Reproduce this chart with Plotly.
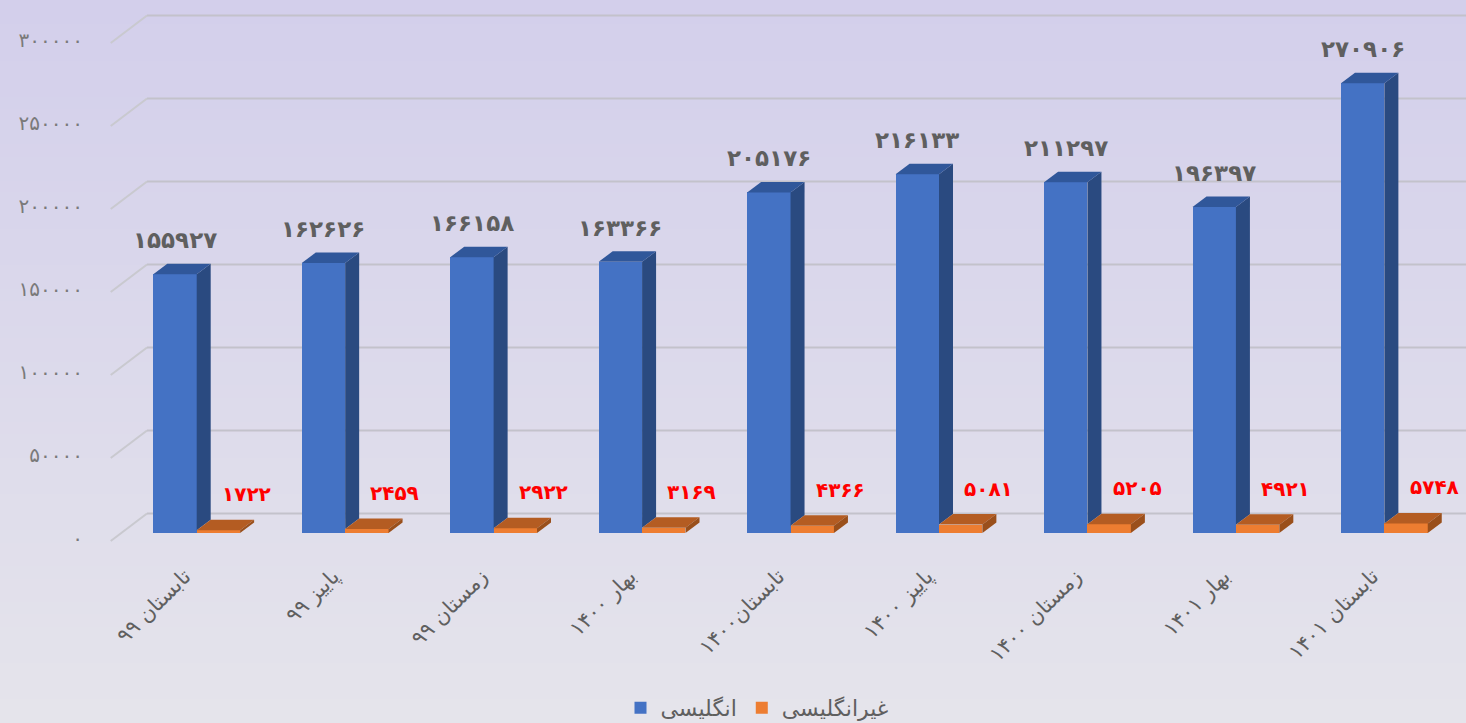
import plotly.graph_objects as go

# ---------------- data ----------------
categories = ["تابستان ۹۹", "پاییز ۹۹", "زمستان ۹۹", "بهار ۱۴۰۰", "تابستان۱۴۰۰",
              "پاییز ۱۴۰۰", "زمستان ۱۴۰۰", "بهار ۱۴۰۱", "تابستان ۱۴۰۱"]
english = [155927, 162626, 166158, 163366, 205176, 216133, 211297, 196397, 270906]
non_english = [1722, 2459, 2922, 3169, 4366, 5081, 5205, 4921, 5748]
series_names = ["انگلیسی", "غیرانگلیسی"]
y_ticks = [0, 50000, 100000, 150000, 200000, 250000, 300000]

FA = str.maketrans("0123456789", "۰۱۲۳۴۵۶۷۸۹")
def fa(n):
    return str(n).translate(FA)

# ---------------- geometry / style ----------------
W, H = 1466, 723
ML, MB = 110, 178
PLOT_H = H - MB            # 545
PLOT_W = W - ML            # 1356
PX_PER_CAT = 148.46
PX_PER_VAL = 498 / 300000
ZERO_PX = 533              # pixel row of value 0 in plot (from top)
X0_PX = 196.7              # pixel column of category 0 centre

x_range = [(ML - X0_PX) / PX_PER_CAT, (W - X0_PX) / PX_PER_CAT]
y_range = [-(PLOT_H - ZERO_PX) / PX_PER_VAL, ZERO_PX / PX_PER_VAL]

BAR_W = 43.4 / PX_PER_CAT
DX = 14 / PX_PER_CAT
DY = 10.5 / PX_PER_VAL
BACK_X = (147 - X0_PX) / PX_PER_CAT
BACK_DY = 19.5 / PX_PER_VAL
FRONT_DY = -8 / PX_PER_VAL

BLUE, BLUE_TOP, BLUE_SIDE = "#4472c4", "#30579a", "#2a4a80"
ORNG, ORNG_TOP, ORNG_SIDE = "#ed7d31", "#b45c22", "#9a4f1b"
GRID = "#c3c2cb"
TXT = "#5f5f5f"
FONT = "DejaVu Sans"

def path(pts):
    return "M " + " L ".join(f"{x},{y}" for x, y in pts) + " Z"

shapes = []
# background gradient
c_top = (211, 207, 235)
c_bot = (229, 228, 235)
N = 60
for k in range(N):
    t = k / (N - 1)
    col = tuple(round(a + (b - a) * t) for a, b in zip(c_top, c_bot))
    p0 = k * H / N
    p1 = (k + 1) * H / N + 1
    shapes.append(dict(type="rect", xref="paper", yref="paper", layer="below",
                       x0=-ML / PLOT_W - 0.01, x1=1.01,
                       y0=(PLOT_H - p1) / PLOT_H, y1=(PLOT_H - p0) / PLOT_H,
                       fillcolor="rgb(%d,%d,%d)" % col, line=dict(width=0)))
# back wall gridlines + diagonals
for v in y_ticks:
    shapes.append(dict(type="line", xref="x", yref="y", layer="below",
                       x0=BACK_X, x1=x_range[1] + 1, y0=v + BACK_DY, y1=v + BACK_DY,
                       line=dict(color=GRID, width=2)))
    shapes.append(dict(type="line", xref="x", yref="y", layer="below",
                       x0=x_range[0] + 0.005, x1=BACK_X, y0=v + FRONT_DY, y1=v + BACK_DY,
                       line=dict(color="#c9c9cf", width=2)))

# 3D faces
for i, (vb, vo) in enumerate(zip(english, non_english)):
    bx0, bx1 = i - BAR_W, i
    shapes.append(dict(type="path", xref="x", yref="y", layer="above",
                       path=path([(bx1, vo), (bx1 + DX, vo + DY), (bx1 + DX, vb + DY), (bx1, vb)]),
                       fillcolor=BLUE_SIDE, line=dict(width=0)))
    shapes.append(dict(type="path", xref="x", yref="y", layer="above",
                       path=path([(bx0, vb), (bx0 + DX, vb + DY), (bx1 + DX, vb + DY), (bx1, vb)]),
                       fillcolor=BLUE_TOP, line=dict(width=0)))
    ox0, ox1 = i, i + BAR_W
    shapes.append(dict(type="path", xref="x", yref="y", layer="above",
                       path=path([(ox0, vo), (ox0 + DX, vo + DY), (ox1 + DX, vo + DY), (ox1, vo)]),
                       fillcolor=ORNG_TOP, line=dict(width=0)))
    shapes.append(dict(type="path", xref="x", yref="y", layer="above",
                       path=path([(ox1, 0), (ox1 + DX, DY), (ox1 + DX, vo + DY), (ox1, vo)]),
                       fillcolor=ORNG_SIDE, line=dict(width=0)))

xs = list(range(len(categories)))
fig = go.Figure()
fig.add_trace(go.Bar(x=xs, y=english, name=series_names[0], width=BAR_W, offset=-BAR_W,
                     marker=dict(color=BLUE, line=dict(width=0)), hoverinfo="skip"))
fig.add_trace(go.Bar(x=xs, y=non_english, name=series_names[1], width=BAR_W, offset=0,
                     marker=dict(color=ORNG, line=dict(width=0)), hoverinfo="skip"))

annotations = []
for i, (vb, vo) in enumerate(zip(english, non_english)):
    annotations.append(dict(x=i - BAR_W / 2, y=vb, xref="x", yref="y", text=fa(vb),
                            showarrow=False, yanchor="middle", yshift=34,
                            font=dict(family=FONT, size=23, color=TXT, weight="bold")))
    annotations.append(dict(x=i + BAR_W / 2, y=vo, xref="x", yref="y", text=fa(vo),
                            showarrow=False, yanchor="middle", xshift=28, yshift=36,
                            font=dict(family=FONT, size=20, color="#ff0000", weight="bold")))

fig.update_layout(
    width=W, height=H,
    margin=dict(l=ML, r=0, t=0, b=MB, pad=0),
    paper_bgcolor="#e4e3eb", plot_bgcolor="rgba(0,0,0,0)",
    barmode="overlay", bargap=0,
    shapes=shapes, annotations=annotations,
    font=dict(family=FONT, color=TXT),
    showlegend=True,
    legend=dict(orientation="h", xref="container", yref="container",
                x=757 / W, xanchor="center", y=1 - 708 / H, yanchor="middle",
                font=dict(family=FONT, size=22, color=TXT), traceorder="normal",
                bgcolor="rgba(0,0,0,0)"),
    xaxis=dict(range=x_range, tickmode="array", tickvals=xs, ticktext=categories,
               tickangle=-45, showgrid=False, zeroline=False, showline=False, ticks="",
               ticklabelstandoff=14, ticklabelshift=-12,
               tickfont=dict(family=FONT, size=21, color=TXT)),
    yaxis=dict(range=y_range, tickmode="array", tickvals=y_ticks,
               ticktext=[fa(v) for v in y_ticks], showgrid=False, zeroline=False,
               showline=False, ticks="", ticklabelstandoff=26, ticklabelshift=5,
               tickfont=dict(family=FONT, size=20, color="#7a7a7a")),
)
fig.write_html("out.html", config={"displayModeBar": False},
               post_script="document.body.style.margin='0';document.body.style.padding='0';"
                           "document.documentElement.style.overflow='hidden';")
